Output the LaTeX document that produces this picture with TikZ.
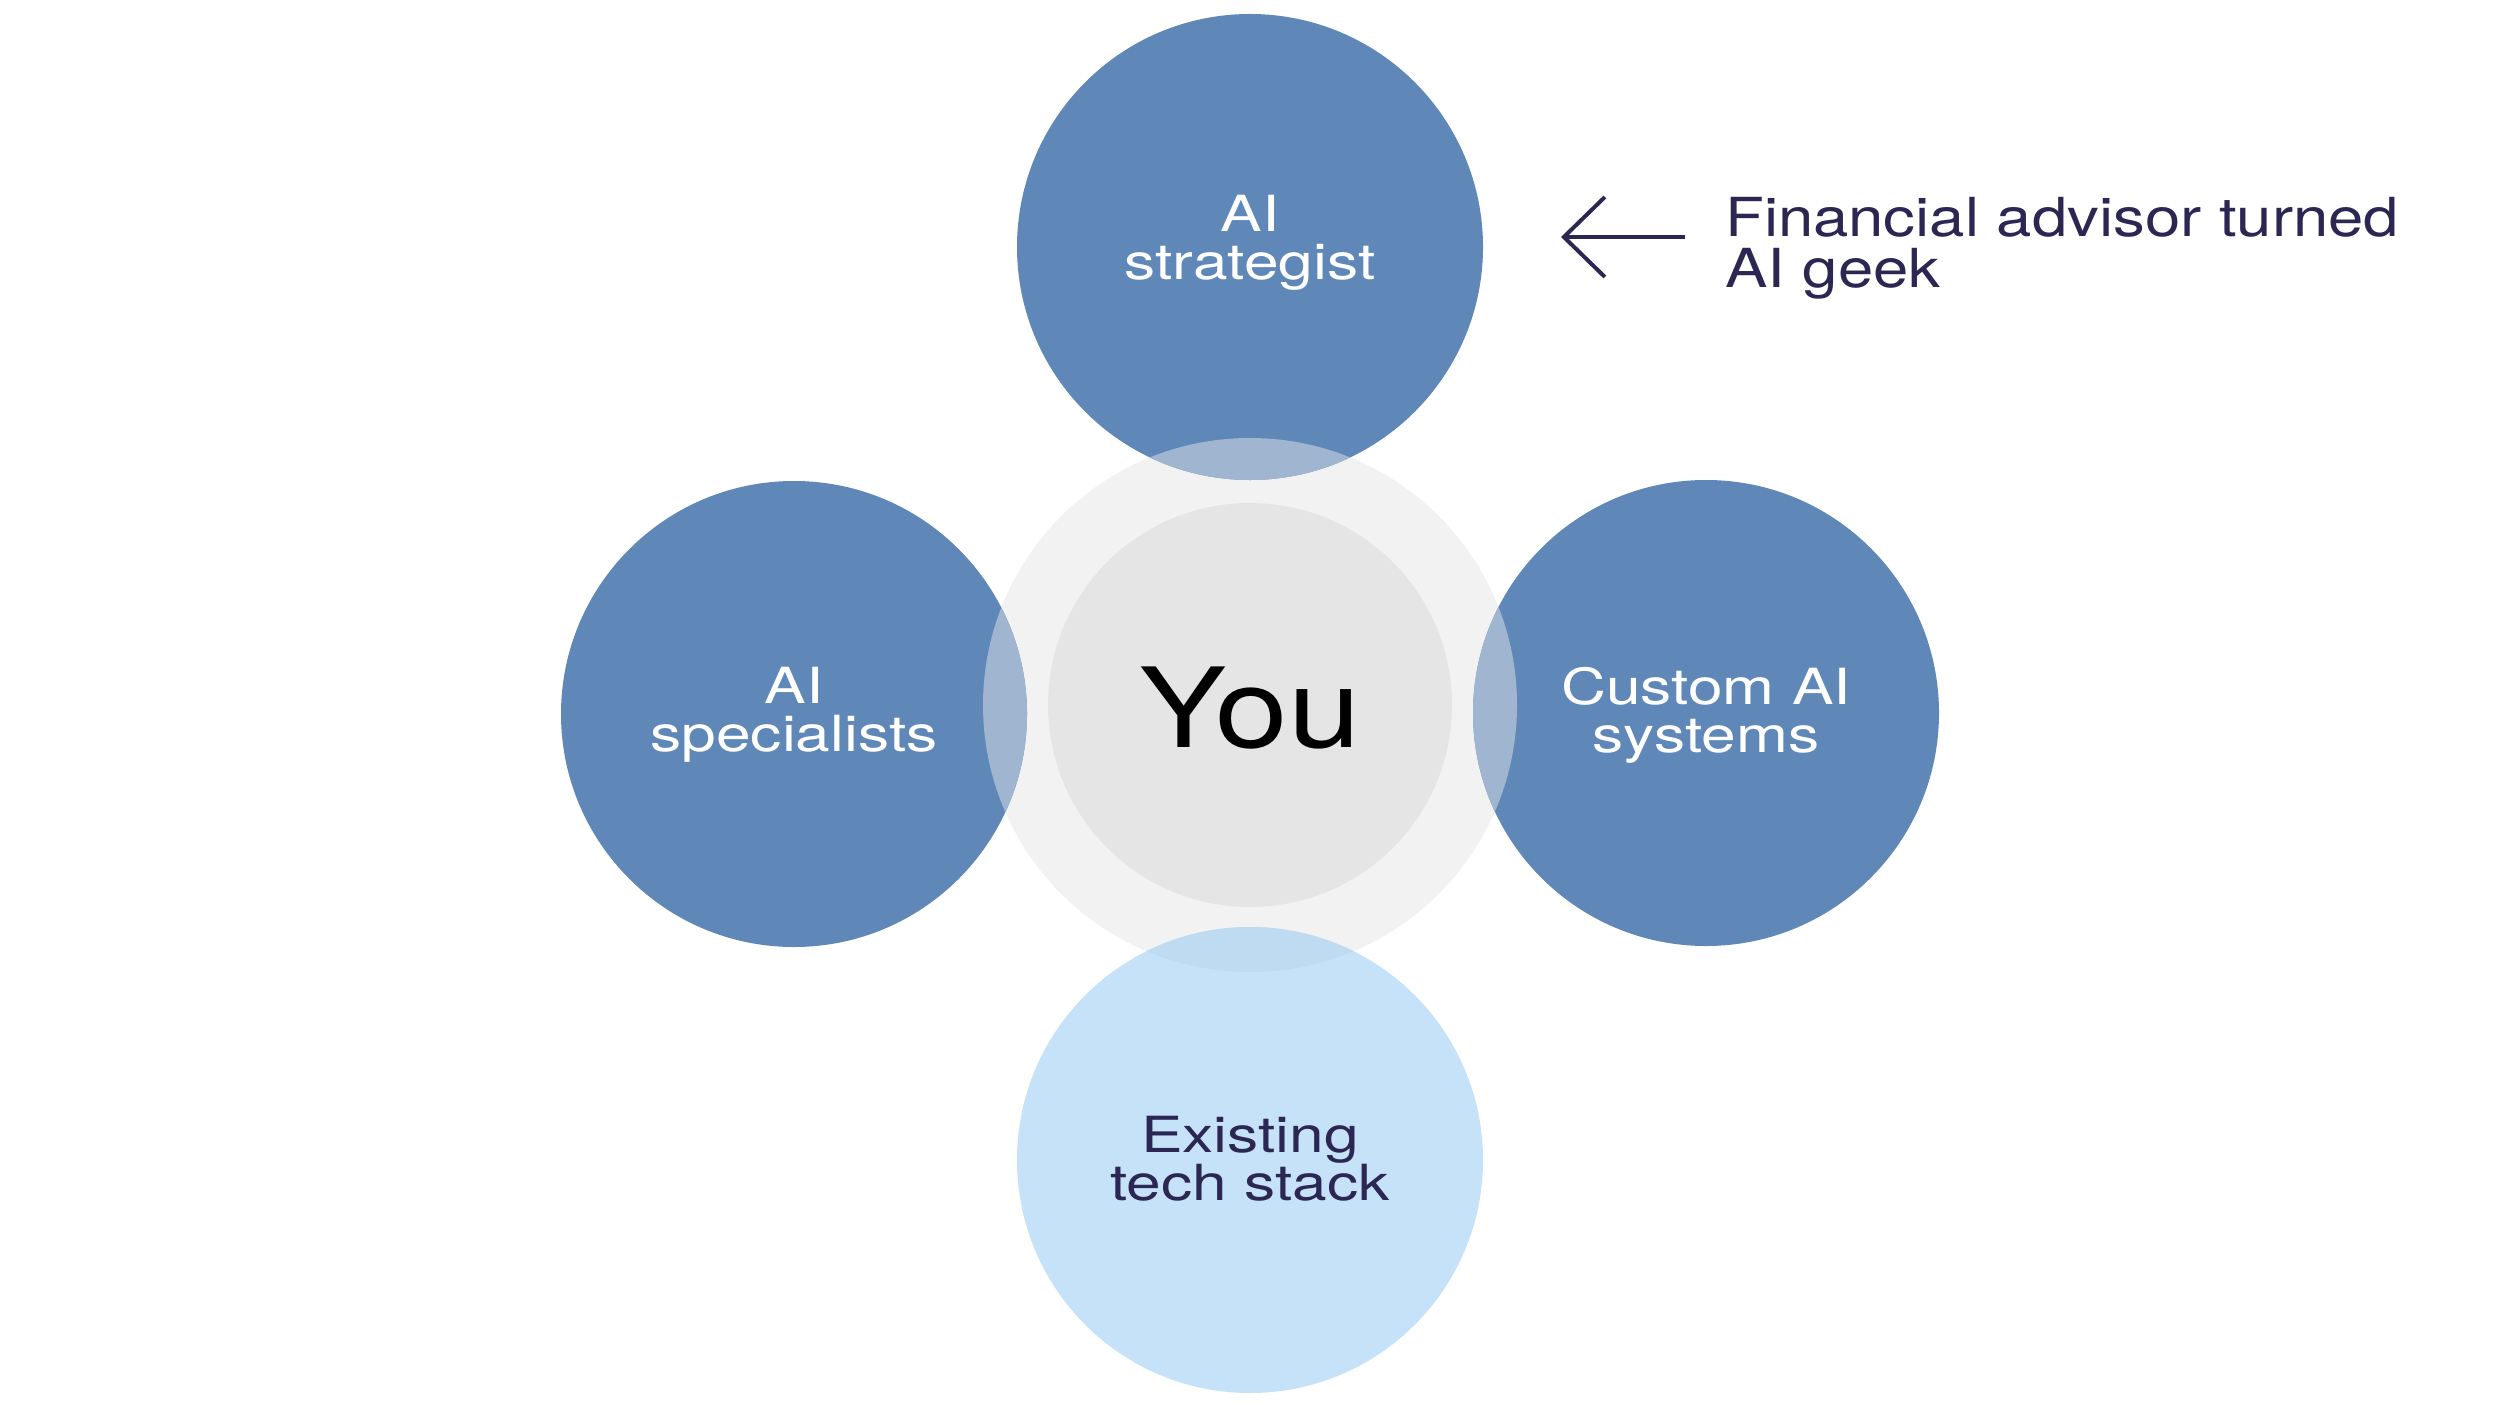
\documentclass[tikz,border=0pt]{standalone}
\usepackage{fontspec}
\setmainfont{TeX Gyre Heros}[FakeStretch=1.18]
\newfontfamily\widefont{TeX Gyre Heros}[FakeStretch=1.25]
\usetikzlibrary{arrows.meta}
\definecolor{bluec}{HTML}{5F88B8}
\definecolor{lightc}{HTML}{C6E2F8}
\definecolor{outerc}{HTML}{F2F2F2}
\definecolor{innerc}{HTML}{E5E5E5}
\definecolor{ovdark}{HTML}{A0B5CF}
\definecolor{ovlight}{HTML}{BFDBF1}
\definecolor{navy}{HTML}{2C2752}
\tikzset{
  disc/.style={circle, minimum size=466bp, inner sep=0pt},
  darkdisc/.style={disc, fill=bluec},
  lightdisc/.style={disc, fill=lightc},
  bubbletext/.style={align=center, inner sep=0pt,
    font=\widefont\fontsize{50}{48}\selectfont},
  note/.style={align=left, text=navy, font=\fontsize{54}{51}\selectfont, inner sep=0pt},
  pointer/.style={draw=navy, line width=4bp, -{Straight Barb[length=41bp,width=80bp,line width=4bp]}}
}
\begin{document}
\begin{tikzpicture}[x=1bp,y=-1bp]
\useasboundingbox (0,0) rectangle (2500,1406);
\fill[white] (0,0) rectangle (2500,1406);
% centre discs
\node[circle, minimum size=534bp, inner sep=0pt, fill=outerc] (outer) at (1250,705) {};
\node[circle, minimum size=404bp, inner sep=0pt, fill=innerc] (inner) at (1250,705) {};
% satellites
\node[darkdisc] (top) at (1250,247) {};
\node[darkdisc] (left) at (794,714) {};
\node[darkdisc] (right) at (1706,713) {};
\node[lightdisc] (bottom) at (1250,1160) {};
% overlaps
\begin{scope}
  \clip (1250,705) circle (267bp);
  \fill[ovdark] (1250,247) circle (233bp);
  \fill[ovdark] (794,714) circle (233bp);
  \fill[ovdark] (1706,713) circle (233bp);
  \fill[ovlight] (1250,1160) circle (233bp);
\end{scope}
% labels
\node[bubbletext, text=white] (toptext) at (1250,243) {AI\\strategist};
\node[bubbletext, text=white] (lefttext) at (794,715) {AI\\specialists};
\node[bubbletext, text=white] (righttext) at (1706,715) {Custom AI\\systems};
\node[bubbletext, text=navy] (bottomtext) at (1250,1159) {Existing\\tech stack};
\node[font=\fontsize{111}{111}\selectfont, text=black, inner sep=0pt] (you) at (1250,708) {You};
% annotation
\node[note, anchor=west] (label) at (1725,248) {Financial advisor turned\\AI geek};
\coordinate (tail) at (1685,237);
\coordinate (tip) at (1561,237);
\draw[pointer] (tail) -- (tip);
\end{tikzpicture}
\end{document}
